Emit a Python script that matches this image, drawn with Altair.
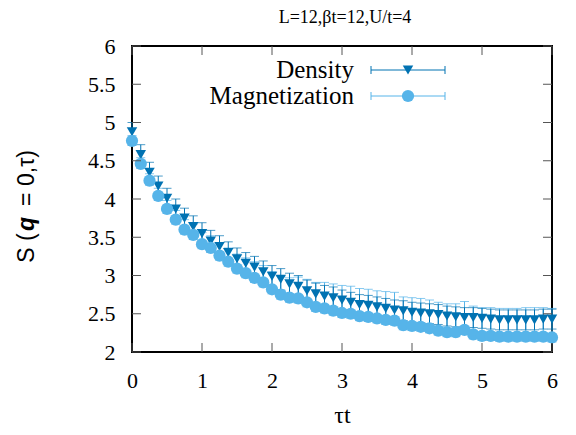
import altair as alt
import pandas as pd

# ---- data ----
tau = [0.0, 0.125, 0.25, 0.375, 0.5, 0.625, 0.75, 0.875, 1.0, 1.125, 1.25, 1.375,
       1.5, 1.625, 1.75, 1.875, 2.0, 2.125, 2.25, 2.375, 2.5, 2.625, 2.75, 2.875,
       3.0, 3.125, 3.25, 3.375, 3.5, 3.625, 3.75, 3.875, 4.0, 4.125, 4.25, 4.375,
       4.5, 4.625, 4.75, 4.875, 5.0, 5.125, 5.25, 5.375, 5.5, 5.625, 5.75, 5.875, 6.0]

density = [4.88, 4.58, 4.35, 4.17, 4.01, 3.87, 3.75, 3.64, 3.55, 3.45, 3.38, 3.30,
           3.22, 3.16, 3.11, 3.05, 2.99, 2.95, 2.89, 2.86, 2.80, 2.76, 2.73, 2.71,
           2.68, 2.65, 2.62, 2.61, 2.59, 2.57, 2.55, 2.54, 2.52, 2.51, 2.50, 2.49,
           2.47, 2.46, 2.45, 2.45, 2.44, 2.43, 2.42, 2.42, 2.42, 2.42, 2.42, 2.43, 2.43]
density_err = [0.12, 0.13, 0.13, 0.13, 0.13, 0.13, 0.13, 0.14, 0.14, 0.14, 0.14, 0.14,
               0.14, 0.14, 0.14, 0.14, 0.14, 0.14, 0.14, 0.14, 0.14, 0.14, 0.14, 0.14,
               0.13, 0.13, 0.13, 0.13, 0.13, 0.13, 0.13, 0.13, 0.13, 0.13, 0.13, 0.13,
               0.13, 0.13, 0.13, 0.13, 0.13, 0.13, 0.13, 0.13, 0.13, 0.13, 0.13, 0.13, 0.13]

magnetization = [4.76, 4.46, 4.24, 4.04, 3.87, 3.73, 3.60, 3.53, 3.41, 3.36, 3.26, 3.18,
                 3.09, 3.03, 2.97, 2.91, 2.82, 2.75, 2.71, 2.70, 2.65, 2.59, 2.57, 2.54,
                 2.51, 2.50, 2.47, 2.46, 2.44, 2.42, 2.41, 2.35, 2.34, 2.33, 2.31, 2.28,
                 2.26, 2.26, 2.29, 2.23, 2.21, 2.21, 2.20, 2.20, 2.20, 2.20, 2.20, 2.20, 2.19]
mag_err_lo = [0.06] * 49
mag_err_hi = [0.07, 0.08, 0.09, 0.10, 0.11, 0.12, 0.13, 0.14, 0.15, 0.16, 0.17, 0.18,
              0.19, 0.20, 0.21, 0.22, 0.23, 0.24, 0.26, 0.28, 0.30, 0.32, 0.34, 0.35,
              0.36, 0.36, 0.36, 0.36, 0.36, 0.37, 0.37, 0.37, 0.37, 0.37, 0.37, 0.37,
              0.37, 0.37, 0.37, 0.37, 0.37, 0.37, 0.37, 0.37, 0.37, 0.38, 0.38, 0.38, 0.38]

x_ticks = [0, 1, 2, 3, 4, 5, 6]
y_ticks = [2, 2.5, 3, 3.5, 4, 4.5, 5, 5.5, 6]

DARK = "#0072b2"
LIGHT = "#56b4e9"
W, H = 420, 306
SERIF = "Liberation Serif"
SANS = "Liberation Sans"

dens = pd.DataFrame({"t": tau, "v": density,
                     "lo": [v - e for v, e in zip(density, density_err)],
                     "hi": [v + e for v, e in zip(density, density_err)]})
mag = pd.DataFrame({"t": tau, "v": magnetization,
                    "lo": [v - e for v, e in zip(magnetization, mag_err_lo)],
                    "hi": [v + e for v, e in zip(magnetization, mag_err_hi)]})
xt = pd.DataFrame({"t": x_ticks})
yt = pd.DataFrame({"v": y_ticks})
one = pd.DataFrame({"a": [0]})

xs = alt.Scale(domain=[0, 6], nice=False, zero=False)
ys = alt.Scale(domain=[2, 6], nice=False, zero=False)

xaxis = alt.Axis(values=x_ticks, ticks=False, domain=False, grid=False, labelFont=SERIF,
                 labelFontSize=22, labelColor="black", labelPadding=18, title="τt",
                 titleFont=SERIF, titleFontSize=24, titleFontWeight="normal",
                 titleColor="black", titlePadding=12, labelFlush=False, format="~g",
                 labelOverlap=False)
yaxis = alt.Axis(values=y_ticks, ticks=False, domain=False, grid=False, labelFont=SERIF,
                 labelFontSize=22, labelColor="black", labelPadding=17, title=None,
                 labelFlush=False, format="~g", labelOverlap=False)


def XE(field):
    return alt.X(f"{field}:Q", scale=xs, axis=xaxis)


def YE(field):
    return alt.Y(f"{field}:Q", scale=ys, axis=yaxis)


def errbars(df, color):
    base = alt.Chart(df)
    rule = base.mark_rule(color=color, strokeWidth=1).encode(
        x=XE("t"), y=YE("lo"), y2="hi:Q")
    cap_hi = base.mark_tick(color=color, orient="horizontal", size=9, thickness=1).encode(
        x=XE("t"), y=YE("hi"))
    cap_lo = base.mark_tick(color=color, orient="horizontal", size=9, thickness=1).encode(
        x=XE("t"), y=YE("lo"))
    return [rule, cap_hi, cap_lo]


dens_pts = alt.Chart(dens).mark_point(shape="triangle-down", filled=True, size=110,
                                       color=DARK, opacity=1).encode(x=XE("t"), y=YE("v"))
mag_pts = alt.Chart(mag).mark_point(shape="circle", filled=True, size=150,
                                     color=LIGHT, opacity=1).encode(x=XE("t"), y=YE("v"))

# inward ticks on all four sides
tick_col = "#555555"
xt_bot = alt.Chart(xt).mark_rule(color=tick_col, strokeWidth=1).encode(
    x=XE("t"), y=alt.value(H), y2=alt.value(H - 9))
xt_top = alt.Chart(xt).mark_rule(color=tick_col, strokeWidth=1).encode(
    x=XE("t"), y=alt.value(0), y2=alt.value(9))
yt_left = alt.Chart(yt).mark_rule(color=tick_col, strokeWidth=1).encode(
    y=YE("v"), x=alt.value(0), x2=alt.value(9))
yt_right = alt.Chart(yt).mark_rule(color=tick_col, strokeWidth=1).encode(
    y=YE("v"), x=alt.value(W), x2=alt.value(W - 9))

# title
title = alt.Chart(one).mark_text(text="L=12,βt=12,U/t=4", font=SERIF, fontSize=18,
                                 color="black", align="center", baseline="middle").encode(
    x=alt.value(W / 2 + 3), y=alt.value(-28))

# y axis title pieces (rotated)
yl1 = alt.Chart(one).mark_text(text="S (", font=SANS, fontSize=23, angle=270,
                               align="center", baseline="middle", color="black").encode(
    x=alt.value(-105), y=alt.value(202))
yl2 = alt.Chart(one).mark_text(text="q", font=SANS, fontSize=23, angle=270,
                               fontWeight="bold", fontStyle="italic",
                               align="center", baseline="middle", color="black").encode(
    x=alt.value(-105), y=alt.value(178))
yl3 = alt.Chart(one).mark_text(text="= 0,τ)", font=SANS, fontSize=23, angle=270,
                               align="center", baseline="middle", color="black").encode(
    x=alt.value(-105), y=alt.value(132))

# legend
def legend_row(label, color, shape, size, yy):
    txt = alt.Chart(one).mark_text(text=label, font=SERIF, fontSize=25,
                                   align="right", baseline="middle", color="black").encode(
        x=alt.value(222), y=alt.value(yy))
    line = alt.Chart(one).mark_rule(color=color, strokeWidth=1).encode(
        x=alt.value(239), x2=alt.value(313), y=alt.value(yy))
    c1 = alt.Chart(one).mark_rule(color=color, strokeWidth=1).encode(
        x=alt.value(239), y=alt.value(yy - 4), y2=alt.value(yy + 4))
    c2 = alt.Chart(one).mark_rule(color=color, strokeWidth=1).encode(
        x=alt.value(313), y=alt.value(yy - 4), y2=alt.value(yy + 4))
    pt = alt.Chart(one).mark_point(shape=shape, filled=True, size=size, color=color,
                                   opacity=1).encode(x=alt.value(276), y=alt.value(yy))
    return [txt, line, c1, c2, pt]


layers = (errbars(mag, LIGHT) + errbars(dens, DARK) + [dens_pts, mag_pts]
          + [xt_bot, xt_top, yt_left, yt_right, title, yl1, yl2, yl3]
          + legend_row("Density", DARK, "triangle-down", 110, 24)
          + legend_row("Magnetization", LIGHT, "circle", 150, 50))

chart = alt.layer(*layers).properties(
    width=W, height=H,
    autosize=alt.AutoSizeParams(type="none"),
    padding={"left": 124, "top": 38, "right": 16, "bottom": 75},
    background="white",
).configure(font=SERIF).configure_axis(labelFont=SERIF, titleFont=SERIF).configure_view(
    stroke="black", strokeWidth=2)

chart.save("out.html", embed_options={"renderer": "svg", "actions": False})
